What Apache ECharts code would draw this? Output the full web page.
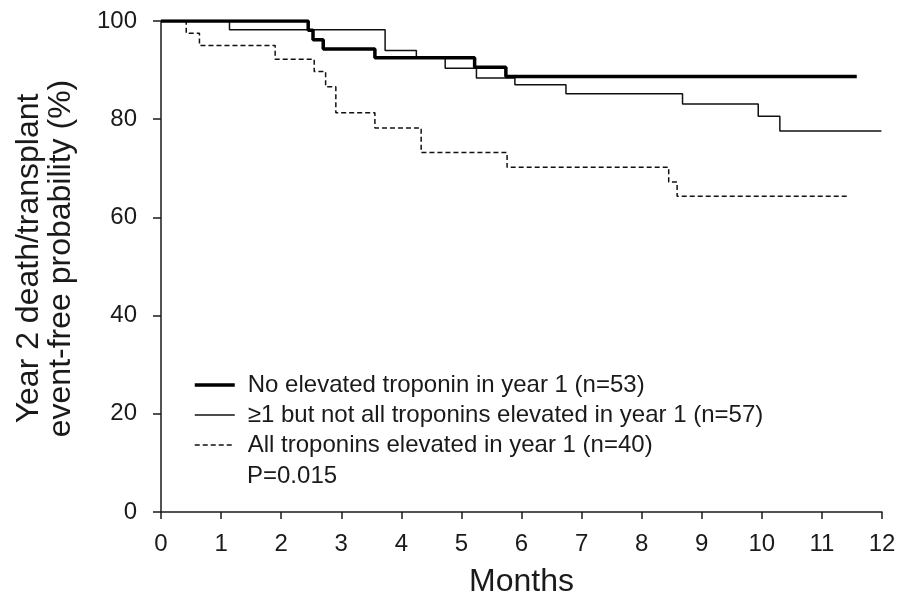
<!DOCTYPE html>
<html>
<head>
<meta charset="utf-8">
<script src="https://cdn.jsdelivr.net/npm/echarts@6/dist/echarts.min.js"></script>
<style>
  html, body { margin: 0; padding: 0; background: #fff; }
  #chart { width: 898px; height: 601px; }
</style>
</head>
<body>
<div id="chart"></div>
<script>
// Kaplan-Meier step curves (months, %)
var noneTimes = [0, 2.45, 2.53, 2.70, 3.56, 5.22, 5.74, 11.58];
var noneSurv  = [100, 98.1, 96.2, 94.3, 92.5, 90.6, 88.7, 88.7];

var someTimes = [0, 1.14, 3.73, 4.25, 4.73, 5.25, 5.89, 6.74, 8.68, 9.94, 10.30, 11.99];
var someSurv  = [100, 98.2, 94.0, 92.7, 90.4, 88.4, 87.0, 85.2, 83.1, 80.6, 77.6, 77.6];

var allTimes = [0, 0.42, 0.64, 1.90, 2.55, 2.74, 2.91, 3.56, 4.33, 5.76, 8.45, 8.59, 11.46];
var allSurv  = [100, 97.5, 95.0, 92.2, 89.7, 86.6, 81.3, 78.2, 73.2, 70.2, 67.2, 64.3, 64.3];

var seriesNames = [
  'No elevated troponin in year 1 (n=53)',
  '\u22651 but not all troponins elevated in year 1 (n=57)',
  'All troponins elevated in year 1 (n=40)'
];
var pText = 'P=0.015';

function pairs(t, s) {
  var out = [];
  for (var i = 0; i < t.length; i++) out.push([t[i], s[i]]);
  return out;
}

var ink = '#1a1a1a';
var font = '"Liberation Sans", Arial, sans-serif';
var noDot = 'rgba(0,0,0,0)';   // hide the legend symbol, keep the line

var lineStyles = [
  { color: '#000', width: 3.5 },
  { color: '#111', width: 1.5 },
  { color: '#111', width: 1.5, type: [5, 3] }
];

var myChart = echarts.init(document.getElementById('chart'));

var option = {
  animation: false,
  textStyle: { fontFamily: font, color: ink },
  grid: { left: 161, right: 16, top: 21, bottom: 89, outerBoundsMode: 'none' },
  legend: {
    orient: 'vertical',
    left: 188,
    top: 368,
    itemWidth: 40,
    itemHeight: 24,
    itemGap: 6,
    selectedMode: false,
    textStyle: { fontSize: 24, lineHeight: 24, color: ink, fontFamily: font, padding: [0, 0, 0, 8] },
    data: seriesNames.map(function (n, i) {
      return { name: n, lineStyle: lineStyles[i] };
    })
  },
  xAxis: {
    type: 'value',
    min: 0, max: 12, interval: 1,
    name: 'Months',
    nameLocation: 'middle',
    nameGap: 54,
    nameTextStyle: { fontSize: 32, color: ink, fontFamily: font },
    axisLine: { show: true, lineStyle: { color: ink, width: 1.5 } },
    axisTick: { show: true, length: 7, lineStyle: { color: ink, width: 1.5 } },
    axisLabel: { fontSize: 24, color: ink, margin: 20, fontFamily: font },
    splitLine: { show: false }
  },
  yAxis: {
    type: 'value',
    min: 0, max: 100, interval: 20,
    name: 'Year 2 death/transplant\nevent-free probability (%)',
    nameLocation: 'middle',
    nameGap: 84,
    nameRotate: 90,
    nameTextStyle: { fontSize: 32, color: ink, lineHeight: 32, fontFamily: font, padding: [0, 0, 0, 16] },
    axisLine: { show: true, lineStyle: { color: ink, width: 1.5 } },
    axisTick: { show: true, length: 8, lineStyle: { color: ink, width: 1.5 } },
    axisLabel: { fontSize: 24, color: ink, margin: 24, fontFamily: font },
    splitLine: { show: false }
  },
  graphic: [{
    type: 'text',
    left: 247,
    top: 464,
    style: { text: pText, fontSize: 24, fill: ink, fontFamily: font }
  }],
  series: [
    {
      name: seriesNames[0], type: 'line', step: 'end', symbol: 'none',
      lineStyle: lineStyles[0], itemStyle: { color: noDot },
      data: pairs(noneTimes, noneSurv), z: 3
    },
    {
      name: seriesNames[1], type: 'line', step: 'end', symbol: 'none',
      lineStyle: lineStyles[1], itemStyle: { color: noDot },
      data: pairs(someTimes, someSurv), z: 2
    },
    {
      name: seriesNames[2], type: 'line', step: 'end', symbol: 'none',
      lineStyle: lineStyles[2], itemStyle: { color: noDot },
      data: pairs(allTimes, allSurv), z: 2
    }
  ]
};

myChart.setOption(option);
</script>
</body>
</html>
